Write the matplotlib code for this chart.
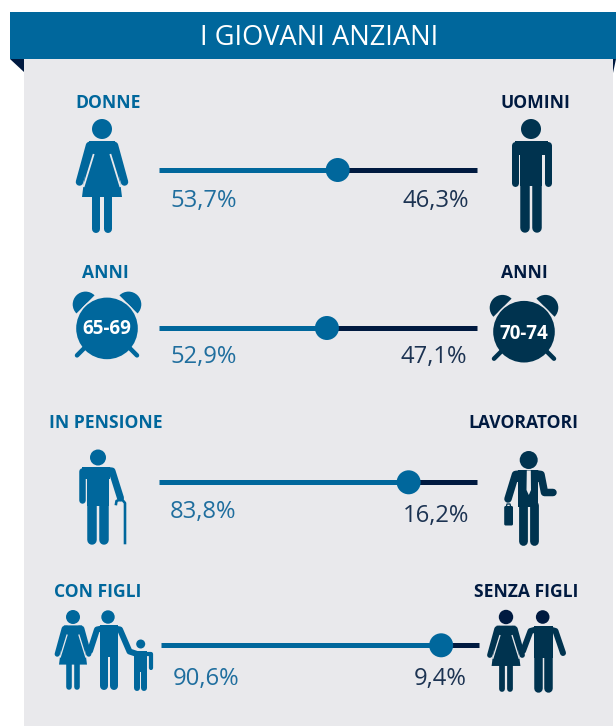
import matplotlib
matplotlib.use("Agg")
import matplotlib.pyplot as plt
from matplotlib.patches import Rectangle, Polygon, Circle, Wedge, FancyBboxPatch

title = "I GIOVANI ANZIANI"
left_labels = ["DONNE", "ANNI", "IN PENSIONE", "CON FIGLI"]
right_labels = ["UOMINI", "ANNI", "LAVORATORI", "SENZA FIGLI"]
left_vals = [53.7, 52.9, 83.8, 90.6]
right_vals = [46.3, 47.1, 16.2, 9.4]
# where the knob sits along the track, in % (not equal to the values)
knob_share = [56.2, 52.8, 78.5, 88.1]
clock_labels = ["65-69", "70-74"]

BLUE = "#00679c"
DARK = "#00334f"
NAVY = "#001a40"
BG = "#e9e9ec"
TXT_L = "#1f6e9e"
TXT_R = "#1c3352"
FONT = "Open Sans"

fig = plt.figure(figsize=(6.16, 7.26), dpi=100)
ax = fig.add_axes([0, 0, 1, 1])
ax.set_xlim(0, 616)
ax.set_ylim(726, 0)
ax.autoscale(False)
ax.axis("off")


def px(w):
    return w * 72 / 100


def limb(pts, w, col, z=3):
    ax.plot([p[0] for p in pts], [p[1] for p in pts], color=col, lw=px(w),
            solid_capstyle="round", solid_joinstyle="round", zorder=z)


def head(cx, cy, r, col):
    ax.add_patch(Circle((cx, cy), r, fc=col, ec="none", zorder=3))


def body(cx, top, half, split, foot, leg_w, col):
    ax.add_patch(Rectangle((cx - half, top), 2 * half, split - top, fc=col, ec="none", zorder=3))
    off = half - leg_w / 2
    limb([(cx - off, split - 2), (cx - off, foot - leg_w / 2)], leg_w, col)
    limb([(cx + off, split - 2), (cx + off, foot - leg_w / 2)], leg_w, col)


def woman(cx, hy, s, col, head_col=None):
    head(cx, hy, 10 * s, head_col or col)
    limb([(cx - 9 * s, hy + 16 * s), (cx - 12.5 * s, hy + 16.5 * s), (cx - 22.5 * s, hy + 53 * s)], 7.5 * s, col)
    limb([(cx + 9 * s, hy + 16 * s), (cx + 12.5 * s, hy + 16.5 * s), (cx + 22.5 * s, hy + 53 * s)], 7.5 * s, col)
    ax.add_patch(Polygon([(cx - 13 * s, hy + 12 * s), (cx + 13 * s, hy + 12 * s),
                          (cx + 20 * s, hy + 68 * s), (cx - 20 * s, hy + 68 * s)],
                         fc=col, ec="none", zorder=4))
    for d in (-1, 1):
        ax.plot([cx + d * 8.3 * s, cx + d * 18.5 * s], [hy + 25 * s, hy + 58 * s], color=BG,
                lw=px(1.8 * s), zorder=5, solid_capstyle="butt")
    limb([(cx - 5.7 * s, hy + 66 * s), (cx - 5.7 * s, hy + 100 * s)], 8 * s, col)
    limb([(cx + 5.9 * s, hy + 66 * s), (cx + 5.9 * s, hy + 100 * s)], 8 * s, col)


def clock(cx, cy, col, txt, base):
    ax.add_patch(Wedge((cx - 21.5, cy - 24), 12.8, 135, 315, fc=col, ec="none", zorder=3))
    ax.add_patch(Wedge((cx + 21.5, cy - 24), 12.8, 225, 405, fc=col, ec="none", zorder=3))
    ax.add_patch(Circle((cx, cy), 32.2, fc=BG, ec="none", zorder=3.2))
    limb([(cx - 30, cy + 27), (cx - 22, cy + 19)], 4.5, col, z=3.5)
    limb([(cx + 30, cy + 27), (cx + 22, cy + 19)], 4.5, col, z=3.5)
    ax.add_patch(Circle((cx, cy), 30.8, fc=col, ec="none", zorder=4))
    ax.text(cx, base, txt, color="white", fontsize=px(18.8), fontweight="bold", family=FONT,
            ha="center", va="baseline", zorder=5)


# panel and banner
ax.add_patch(Rectangle((24, 59), 589, 667, fc=BG, ec="none", zorder=1))
ax.add_patch(Polygon([(10, 59), (24, 59), (24, 72)], fc=NAVY, ec="none", zorder=1))
ax.add_patch(Polygon([(613, 59), (616, 59), (613, 73)], fc=NAVY, ec="none", zorder=1))
ax.add_patch(Rectangle((10, 12), 606, 47, fc=BLUE, ec="none", zorder=2))
ax.text(319, 45.3, title, color="white", fontsize=px(27.3), family=FONT, ha="center", va="baseline", zorder=3)

# sliders
track_x0 = [159, 159, 159, 161]
track_x1 = [477, 477, 477, 479]
row_y = [170, 328, 482.3, 645.3]
for i in range(4):
    x0, x1, y = track_x0[i], track_x1[i], row_y[i]
    kx = x0 + knob_share[i] / 100 * (x1 - x0)
    ax.plot([x0, kx], [y, y], color=BLUE, lw=px(5), solid_capstyle="butt", zorder=2)
    ax.plot([kx, x1], [y, y], color=NAVY, lw=px(5), solid_capstyle="butt", zorder=2)
    ax.add_patch(Circle((kx, y), 12, fc=BLUE, ec="none", zorder=3))


def pct(v):
    return f"{v:.1f}%".replace(".", ",")


left_x = [170, 170, 170, 173]
left_base = [206.7, 362.7, 518.3, 685]
right_x = [469, 467, 469, 467]
right_base = [206.7, 362.7, 522.3, 685]
for i in range(4):
    ax.text(left_x[i], left_base[i], pct(left_vals[i]), color=TXT_L, fontsize=px(23.7), family=FONT,
            ha="left", va="baseline", zorder=3)
    ax.text(right_x[i], right_base[i], pct(right_vals[i]), color=TXT_R, fontsize=px(23.7), family=FONT,
            ha="right", va="baseline", zorder=3)

lab_left_x = [108.3, 105.3, 105.7, 98]
lab_right_x = [535, 524.5, 523, 526]
lab_base = [107.7, 278.3, 428, 596.7]
for i in range(4):
    ax.text(lab_left_x[i], lab_base[i], left_labels[i], color=BLUE, fontsize=px(17.5), fontweight="bold",
            family=FONT, ha="center", va="baseline", zorder=3)
    ax.text(lab_right_x[i], lab_base[i], right_labels[i], color=NAVY, fontsize=px(17.5), fontweight="bold",
            family=FONT, ha="center", va="baseline", zorder=3)

# row 1
woman(102, 129, 1, BLUE)
head(531, 129, 10, DARK)
body(531, 141, 11, 186, 233, 9.5, DARK)
ax.add_patch(Rectangle((514.5, 141), 33, 14, fc=DARK, ec="none", zorder=3))
limb([(520, 144.5), (514.5, 144.5), (514.5, 182.5)], 7, DARK)
limb([(542, 144.5), (547.5, 144.5), (547.5, 182.5)], 7, DARK)

# row 2
clock(107, 328.4, BLUE, clock_labels[0], 334.3)
clock(524, 331.7, DARK, clock_labels[1], 338.7)

# row 3, pensioner
head(98, 457.5, 8, BLUE)
body(98, 467, 11, 506, 544.7, 9.5, BLUE)
ax.add_patch(Rectangle((82, 467), 28, 12, fc=BLUE, ec="none", zorder=3))
limb([(88, 470.5), (81.7, 470.5), (81.7, 499.5)], 6.5, BLUE)
limb([(108, 470.5), (112, 471), (120.5, 498)], 7, BLUE)
ax.plot([116, 116.5, 119, 122.5, 125, 125], [504, 501, 500, 500, 503, 543], color=BLUE, lw=px(2.6),
        solid_joinstyle="round", zorder=3)

# row 3, businessman
head(528.7, 460, 9, DARK)
body(528.3, 470, 10, 507, 545, 8.8, DARK)
ax.add_patch(Polygon([(519, 470), (538, 470), (543, 482), (514, 482)], fc=DARK, ec="none", zorder=3))
limb([(520, 474), (515.5, 474.5), (508, 499)], 7.5, DARK)
limb([(537, 474), (541, 474.5), (544.5, 492.5), (553, 492.5)], 7.5, DARK)
ax.add_patch(Polygon([(526.8, 470.5), (530.8, 470.5), (531, 490), (528.8, 495), (526.5, 490)],
                     fc=BG, ec="none", zorder=4))
ax.add_patch(FancyBboxPatch((504.2, 506), 8.8, 19.5, boxstyle="round,pad=0,rounding_size=1.5",
                            fc=DARK, ec="none", zorder=3))
ax.plot([506.5, 507, 510, 510.5], [506, 504, 504, 506], color=DARK, lw=px(1.3), zorder=3)

# row 4, with children
woman(73, 617, 0.7, BLUE)
head(108, 617, 6.7, BLUE)
body(109, 625, 9, 657, 690, 8, BLUE)
limb([(102, 628.5), (97, 629.5), (90, 651)], 6, BLUE)
limb([(115, 628.5), (120, 629.5), (129.5, 651.5), (137, 654)], 6, BLUE)
head(140.7, 644, 4.5, BLUE)
body(140.5, 651, 6.5, 672, 690.5, 6, BLUE)
limb([(146, 654), (151.3, 654), (151.3, 668)], 4.2, BLUE)

# row 4, without children
woman(506, 617, 0.72, DARK, NAVY)
head(542.7, 617, 6.8, NAVY)
body(543.3, 626, 9.3, 658, 692.7, 8.5, DARK)
limb([(536, 629.5), (530.5, 631), (523, 651)], 6, DARK)
limb([(550, 629.5), (555.5, 631), (563, 653)], 6, DARK)

fig.savefig("out.png", dpi=100, facecolor="white")
